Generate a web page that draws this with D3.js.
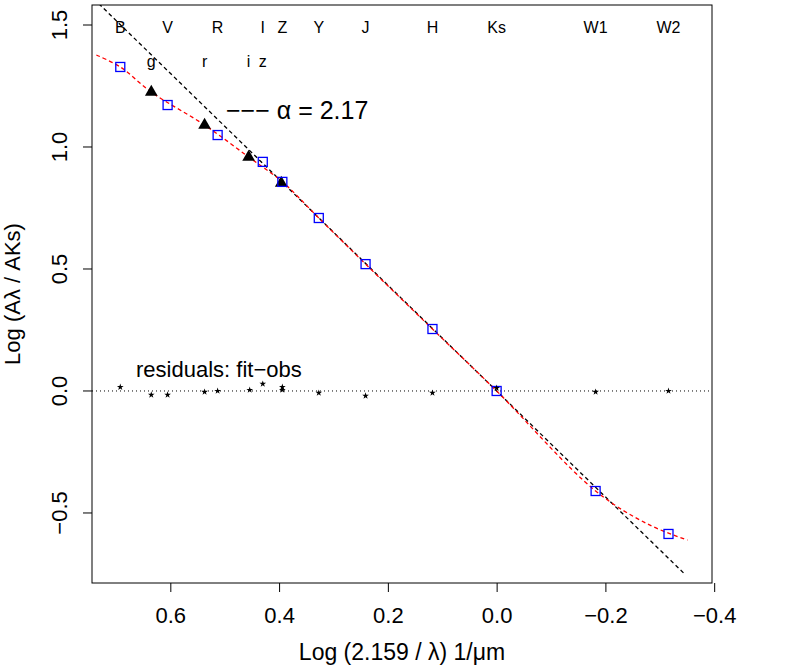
<!DOCTYPE html>
<html><head><meta charset="utf-8">
<script src="https://cdn.jsdelivr.net/npm/d3@7"></script>
<style>body{margin:0;background:#fff}text{font-family:"Liberation Sans",Arial,sans-serif}</style>
</head><body>
<svg width="785" height="667"></svg>
<script>
// observed bands (blue squares)
const bands = ["B","V","R","I","Z","Y","J","H","Ks","W1","W2"]
const bandX = [0.692,0.605,0.513,0.430,0.394,0.327,0.241,0.118,0,-0.182,-0.316]
const bandY = [1.328,1.172,1.049,0.939,0.857,0.709,0.520,0.254,0,-0.410,-0.586]
// sloan bands (triangles)
const sloan = ["g","r","i","z"]
const sloanX = [0.635,0.537,0.456,0.396]
const sloanY = [1.225,1.090,0.959,0.852]
// residuals
const resX = [0.692,0.635,0.605,0.537,0.513,0.454,0.430,0.394,0.394,0.327,0.241,0.118,0,-0.182,-0.316]
const resY = [0.016,-0.016,-0.016,-0.004,0,0.004,0.029,0.004,0.016,-0.008,-0.02,-0.008,0.012,-0.004,0]
// red fit curve
const fitX = [0.736,0.692,0.635,0.537,0.456,0.394,0.327,0.241,0.118,0,-0.182,-0.281,-0.351]
const fitY = [1.377,1.328,1.225,1.090,0.959,0.857,0.709,0.520,0.254,0,-0.410,-0.549,-0.611]
const alpha = 2.17
const xTicks = [0.6,0.4,0.2,0.0,-0.2,-0.4]
const yTicks = [-0.5,0.0,0.5,1.0,1.5]

const svg = d3.select("svg")
const margin = {top: 5, right: 73, bottom: 84, left: 92}
const W = 785, H = 667

const x = d3.scaleLinear().domain([0.744,-0.396]).range([margin.left, W - margin.right])
const y = d3.scaleLinear().domain([-0.787,1.582]).range([H - margin.bottom, margin.top])

svg.append("defs").append("clipPath").attr("id","c")
    .append("rect").attr("x",margin.left).attr("y",margin.top)
    .attr("width",W-margin.left-margin.right).attr("height",H-margin.top-margin.bottom)

const fmt = d => d3.format(".1f")(d).replace("-","\u2212")

svg.append("g")
    .attr("transform", `translate(0,${H - margin.bottom})`)
    .call(d3.axisBottom(x).tickValues(xTicks).tickFormat(fmt).tickSize(9).tickSizeOuter(0))
    .call(g => g.select(".domain").remove())
    .call(g => g.selectAll("text").attr("font-size",22).attr("dy","1.25em"))

const ya = svg.append("g")
    .attr("transform", `translate(${margin.left},0)`)
    .call(d3.axisLeft(y).tickValues(yTicks).tickFormat(fmt).tickSize(9).tickSizeOuter(0))
ya.select(".domain").remove()
ya.selectAll("text").attr("font-size",22)
    .attr("transform", d => `translate(-33,${y(d)}) rotate(-90)`)
    .attr("x",0).attr("y",0).attr("dy","0.35em").attr("text-anchor","middle")
    .each(function(){ this.parentNode.removeAttribute("transform") })
ya.selectAll(".tick").each(function(d){ d3.select(this).attr("transform", null)
    d3.select(this).select("line").attr("y1",y(d)).attr("y2",y(d)) })

svg.append("rect").attr("x",margin.left).attr("y",margin.top)
    .attr("width",W-margin.left-margin.right).attr("height",H-margin.top-margin.bottom)
    .attr("fill","none").attr("stroke","#000")

svg.append("text").attr("x",(margin.left+W-margin.right)/2).attr("y",660)
    .attr("text-anchor","middle").attr("font-size",23).text("Log (2.159 / \u03bb) 1/\u03bcm")
svg.append("text").attr("transform",`translate(20,${(margin.top+H-margin.bottom)/2}) rotate(-90)`)
    .attr("text-anchor","middle").attr("font-size",22).text("Log (A\u03bb / AKs)")

const plot = svg.append("g").attr("clip-path","url(#c)")

// zero line
plot.append("line").attr("x1",margin.left).attr("x2",W-margin.right)
    .attr("y1",y(0)).attr("y2",y(0)).attr("stroke","#000").attr("stroke-dasharray","1,3")

// power law
plot.append("path")
    .datum([0.75,-0.346])
    .attr("d", d3.line().x(d => x(d)).y(d => y(alpha*d)))
    .attr("fill","none").attr("stroke","#000").attr("stroke-width",1.3).attr("stroke-dasharray","4,3")

// fit
plot.append("path")
    .datum(fitX.map((d,i) => [d, fitY[i]]))
    .attr("d", d3.line().x(d => x(d[0])).y(d => y(d[1])).curve(d3.curveCatmullRom))
    .attr("fill","none").attr("stroke","red").attr("stroke-width",1.3).attr("stroke-dasharray","4,3")

plot.selectAll(".tri").data(sloanX).join("path")
    .attr("transform",(d,i) => `translate(${x(d)},${y(sloanY[i])})`)
    .attr("d", d3.symbol(d3.symbolTriangle, 70))

plot.selectAll(".sq").data(bandX).join("rect")
    .attr("x",d => x(d)-4.5).attr("y",(d,i) => y(bandY[i])-4.5)
    .attr("width",9).attr("height",9).attr("fill","none").attr("stroke","blue").attr("stroke-width",1.3)

plot.selectAll(".st").data(resX).join("path")
    .attr("transform",(d,i) => `translate(${x(d)},${y(resY[i])})`)
    .attr("d", d3.symbol(d3.symbolStar, 14))

// band labels
svg.selectAll(".bl").data(bands).join("text")
    .attr("x",(d,i) => x(bandX[i])).attr("y",33).attr("text-anchor","middle")
    .attr("font-size",16).text(d => d)
svg.selectAll(".sl").data(sloan).join("text")
    .attr("x",(d,i) => x([0.635,0.537,0.456,0.43][i])).attr("y",67).attr("text-anchor","middle")
    .attr("font-size",16).text(d => d)

svg.append("text").attr("x",226).attr("y",119).attr("font-size",25).text("\u2212\u2212\u2212 \u03b1 = 2.17")
svg.append("text").attr("x",136).attr("y",377).attr("font-size",22).text("residuals: fit\u2212obs")
</script>
</body></html>
